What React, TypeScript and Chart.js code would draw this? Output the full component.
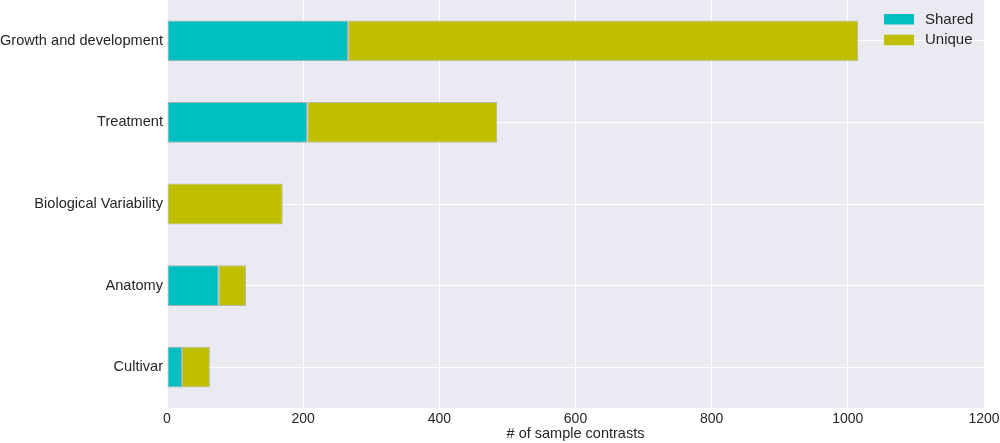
import React, { useEffect, useRef } from "react";
import { Chart, registerables } from "chart.js";

Chart.register(...registerables);

const categories = ["Growth and development", "Treatment", "Biological Variability", "Anatomy", "Cultivar"];
const sharedValues = [266, 206, 0, 76, 22];
const uniqueValues = [749, 279, 170, 40, 41];
const xTicks = [0, 200, 400, 600, 800, 1000, 1200];

const FONT = "'Liberation Sans', Arial, sans-serif";

const bgPlugin = {
  id: "bgPlugin",
  beforeDraw(chart: any) {
    const { ctx, chartArea } = chart;
    ctx.save();
    ctx.fillStyle = "#EAEAF2";
    ctx.fillRect(chartArea.left, chartArea.top, chartArea.right - chartArea.left, chartArea.bottom - chartArea.top);
    ctx.restore();
  },
  afterDraw(chart: any) {
    const { ctx, chartArea } = chart;
    ctx.save();
    const ds = chart.data.datasets;
    const x0 = chartArea.right - 100;
    let y0 = chartArea.top + 14;
    ctx.font = `15px ${FONT}`;
    ctx.textBaseline = "middle";
    ds.forEach((d: any) => {
      ctx.fillStyle = d.backgroundColor;
      ctx.fillRect(x0, y0, 30, 10.5);
      ctx.fillStyle = "#262626";
      ctx.fillText(d.label, x0 + 41, y0 + 5.5);
      y0 += 20.7;
    });
    ctx.restore();
  },
};

export default function App() {
  const ref = useRef<HTMLCanvasElement | null>(null);
  useEffect(() => {
    if (!ref.current) return;
    const chart = new Chart(ref.current, {
      type: "bar",
      data: {
        labels: categories,
        datasets: [
          {
            label: "Shared",
            data: sharedValues,
            backgroundColor: "#00BFBF",
            borderColor: "rgba(120,130,130,0.6)",
            borderWidth: 1,
            borderSkipped: false,
          },
          {
            label: "Unique",
            data: uniqueValues,
            backgroundColor: "#BFBF00",
            borderColor: "rgba(150,150,120,0.6)",
            borderWidth: 1,
            borderSkipped: false,
          },
        ],
      },
      options: {
        indexAxis: "y",
        animation: false,
        responsive: false,
        maintainAspectRatio: false,
        layout: { padding: { top: 0, right: 16, bottom: 0, left: 0 } },
        plugins: { legend: { display: false }, tooltip: { enabled: false } },
        datasets: { bar: { categoryPercentage: 1, barPercentage: 0.5 } },
        scales: {
          x: {
            stacked: true,
            min: 0,
            max: 1200,
            afterBuildTicks: (scale: any) => {
              scale.ticks = xTicks.map((v) => ({ value: v }));
            },
            afterFit: (scale: any) => {
              scale.height = 35;
              scale.paddingLeft = 0;
              scale.paddingRight = 0;
            },
            grid: { color: "#FFFFFF", lineWidth: 1, drawTicks: false },
            border: { display: false },
            ticks: {
              color: "#262626",
              font: { family: FONT, size: 14 },
              padding: 3,
              maxRotation: 0,
              callback: (v: any) => String(v),
            },
            title: {
              display: true,
              text: "# of sample contrasts",
              color: "#262626",
              font: { family: FONT, size: 14.5 },
              padding: { top: 0, bottom: 0 },
            },
          },
          y: {
            stacked: true,
            afterFit: (scale: any) => {
              scale.width = 167;
              scale.paddingTop = 0;
              scale.paddingBottom = 0;
            },
            grid: { color: "#FFFFFF", lineWidth: 1, drawTicks: false, offset: false },
            border: { display: false },
            ticks: { color: "#262626", font: { family: FONT, size: 14.6 }, padding: 4 },
          },
        },
      },
      plugins: [bgPlugin],
    });
    return () => chart.destroy();
  }, []);
  return (
    <div style={{ position: "fixed", left: 0, top: 0, width: 1000, height: 443, background: "#fff" }}>
      <canvas ref={ref} width={1000} height={443} style={{ width: 1000, height: 443 }} />
    </div>
  );
}
